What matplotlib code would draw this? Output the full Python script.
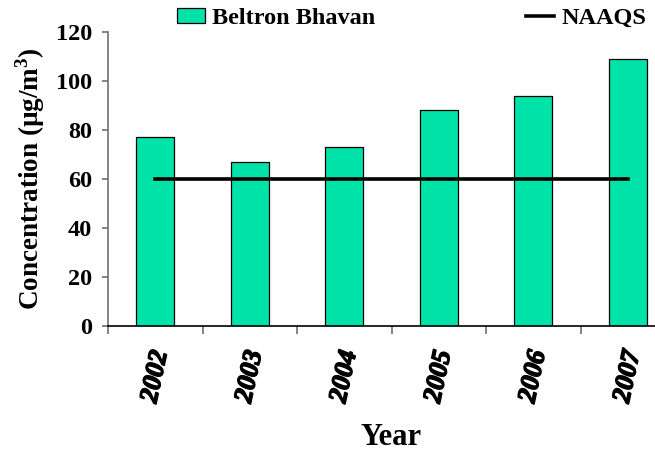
import numpy as np
import matplotlib
matplotlib.use('Agg')
import matplotlib.pyplot as plt
import matplotlib.patheffects as pe
from matplotlib.patches import Patch
from matplotlib.lines import Line2D
from matplotlib.font_manager import FontProperties

# Data
years = ['2002', '2003', '2004', '2005', '2006', '2007']
beltron = [77, 67, 73, 88, 94, 109]
naaqs = [60, 60, 60, 60, 60, 60]

BAR_COLOR = '#00E3A8'
SERIF = ['Liberation Serif', 'DejaVu Serif']

plt.rcParams['font.family'] = SERIF
plt.rcParams['font.weight'] = 'bold'
plt.rcParams['mathtext.fontset'] = 'custom'
plt.rcParams['mathtext.bf'] = 'Liberation Serif:bold'
plt.rcParams['mathtext.rm'] = 'Liberation Serif:bold'

fig = plt.figure(figsize=(6.55, 4.53), dpi=100)
ax = fig.add_axes([108 / 655, 1 - 326 / 453, 567 / 655, 294 / 453])

x = np.arange(len(years))
ax.bar(x, beltron, width=0.40, color=BAR_COLOR, edgecolor='black', linewidth=0.9, zorder=2)
ax.plot(x, naaqs, color='black', linewidth=2.6, zorder=3)

ax.set_xlim(-0.5, len(years) - 0.5)
ax.set_ylim(0, 120)
ax.set_yticks(np.arange(0, 121, 20))

# category boundaries carry the tick marks, centers carry the labels
year_font = FontProperties(family='Liberation Serif', weight='bold', style='italic', size=19)
ax.set_xticks(x)
ax.set_xticklabels(years, rotation=78, fontproperties=year_font)
for lbl in ax.get_xticklabels():
    # italic face renders light, thicken it a bit
    lbl.set_path_effects([pe.withStroke(linewidth=1.1, foreground='black')])
ax.tick_params(axis='x', which='major', length=0, pad=16)
ax.set_xticks(np.arange(-0.5, len(years), 1.0), minor=True)
ax.tick_params(axis='x', which='minor', length=5.5, width=1.2, direction='out', color='#707070')
ax.tick_params(axis='y', length=4.5, width=1.2, direction='out', color='#707070', labelsize=17.5, pad=7)
for lbl in ax.get_yticklabels():
    lbl.set_fontweight('bold')

for s in ['top', 'right']:
    ax.spines[s].set_visible(False)
ax.spines['left'].set_color('#707070')
ax.spines['left'].set_linewidth(1.2)
ax.spines['bottom'].set_color('black')
ax.spines['bottom'].set_linewidth(1.2)

ax.set_xlabel('Year', fontsize=22, fontweight='bold')
ax.set_ylabel('Concentration (µg/m$^{\\mathrm{3}}$)', fontsize=19.5, fontweight='bold', labelpad=6)
ax.xaxis.set_label_coords(283 / 567, -97 / 294)

handles = [Patch(facecolor=BAR_COLOR, edgecolor='black', linewidth=0.9),
           Line2D([0], [0], color='black', linewidth=2.6)]
fig.legend(handles, ['Beltron Bhavan', 'NAAQS'], loc='upper left',
           bbox_to_anchor=(177 / 655, 1 - 8 / 453), ncol=2, frameon=False,
           prop={'family': 'Liberation Serif', 'weight': 'bold', 'size': 17.5},
           handlelength=1.15, handleheight=0.6, handletextpad=0.3,
           columnspacing=6.2, borderpad=0, borderaxespad=0)

fig.savefig('out.png', dpi=100)
